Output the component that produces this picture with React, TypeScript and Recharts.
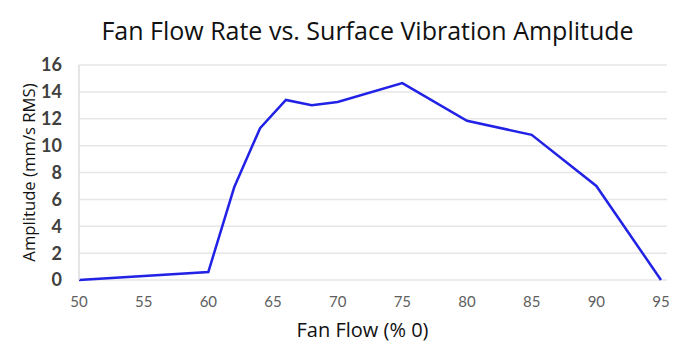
import React from 'react'
import { LineChart, Line, XAxis, YAxis, CartesianGrid, Label } from 'recharts'

// Fan flow (%) readings and the measured vibration amplitude
const fanFlow = [50, 60, 62, 64, 66, 68, 70, 75, 80, 85, 90, 95]
const amplitude = [0, 0.6, 6.9, 11.3, 13.4, 13.0, 13.25, 14.65, 11.85, 10.8, 7.0, 0]

const xTicks = [50, 55, 60, 65, 70, 75, 80, 85, 90, 95]
const yTicks = [0, 2, 4, 6, 8, 10, 12, 14, 16]

const data = fanFlow.map((flow, i) => ({ flow, amplitude: amplitude[i] }))

export default function App() {
  return (
    <div style={{ position: 'absolute', left: 0, top: 0, width: 679, height: 350, background: '#fff' }}>
      <div
        style={{
          position: 'absolute',
          left: 0,
          top: 13,
          width: 735,
          textAlign: 'center',
          fontFamily: '"Open Sans", sans-serif',
          fontSize: 25,
          color: '#111',
        }}
      >
        Fan Flow Rate vs. Surface Vibration Amplitude
      </div>
      <div
        style={{
          position: 'absolute',
          left: 0,
          top: 316,
          width: 725,
          textAlign: 'center',
          fontFamily: '"Open Sans", sans-serif',
          fontSize: 20,
          color: '#111',
        }}
      >
        Fan Flow (% 0)
      </div>
      <LineChart
        width={679}
        height={350}
        data={data}
        margin={{ top: 65, right: 12, left: 0, bottom: 25 }}
      >
        <CartesianGrid stroke="#e6e6e6" strokeWidth={1.5} vertical={false} />
        <XAxis
          dataKey="flow"
          type="number"
          domain={[50, 95]}
          ticks={xTicks}
          padding={{ left: 0, right: 6 }}
          axisLine={false}
          tickLine={false}
          tickSize={0}
          tickMargin={16}
          height={45}
          tick={{ fill: '#606060', fontSize: 15, fontFamily: 'Lato, sans-serif' }}
        />
        <YAxis
          domain={[0, 16]}
          ticks={yTicks}
          width={79}
          axisLine={{ stroke: '#dcdcdc', strokeWidth: 1.5 }}
          tickLine={false}
          tickSize={0}
          tickMargin={17}
          tick={{ fill: '#404040', fontSize: 18, fontWeight: 700, fontFamily: 'Lato, sans-serif' }}
        >
          <Label
            value="Amplitude (mm/s RMS)"
            angle={-90}
            position="insideLeft"
            offset={29}
            style={{ textAnchor: 'middle', fill: '#111', fontSize: 16.7, fontFamily: '"Open Sans", sans-serif' }}
          />
        </YAxis>
        <Line
          type="linear"
          dataKey="amplitude"
          stroke="#2222e6"
          strokeWidth={2.5}
          dot={false}
          isAnimationActive={false}
        />
      </LineChart>
    </div>
  )
}
